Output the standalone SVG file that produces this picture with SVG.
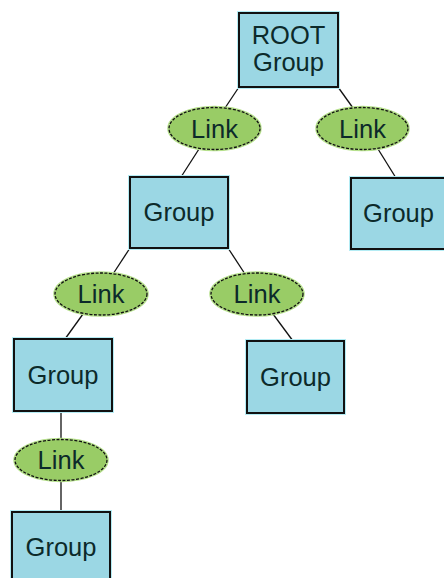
<svg xmlns="http://www.w3.org/2000/svg" width="444" height="578" viewBox="0 0 444 578">
<style>
.halo{fill:none;stroke:#b4ecf4;stroke-width:4}
.box{fill:#9bd7e4;stroke:#111;stroke-width:2}
.lh{fill:none;stroke:#b6e08c;stroke-width:3.5}
.link{fill:#99cc66;stroke:#111;stroke-width:1.3;stroke-dasharray:3 1.5}
.t{font-family:"Liberation Sans",Arial,sans-serif;font-size:25.5px;fill:#0c2a2a;text-anchor:middle}
.c{stroke:#111;stroke-width:1.3;fill:none}
</style>
<rect width="444" height="578" fill="#fff"/>
<g id="connectors">
<line class="c" x1="239" y1="87" x2="225" y2="108"/>
<line class="c" x1="199" y1="149" x2="181" y2="177"/>
<line class="c" x1="338" y1="87" x2="353" y2="108"/>
<line class="c" x1="378" y1="149" x2="396" y2="178"/>
<line class="c" x1="130" y1="248" x2="113" y2="274"/>
<line class="c" x1="228" y1="248" x2="245" y2="274"/>
<line class="c" x1="83" y1="314" x2="65" y2="339"/>
<line class="c" x1="273" y1="314" x2="293" y2="341"/>
<line class="c" x1="61" y1="411" x2="61" y2="440"/>
<line class="c" x1="61" y1="480" x2="61" y2="512"/>
</g>
<g id="root">
<rect class="halo" x="239" y="13" width="99" height="74"/>
<rect class="box" x="239" y="13" width="99" height="74"/>
<text class="t" x="288.5" y="44">ROOT</text>
<text class="t" x="288.5" y="71">Group</text>
</g>
<g id="link1">
<ellipse class="lh" cx="214.5" cy="128.5" rx="45.5" ry="21"/>
<ellipse class="link" cx="214.5" cy="128.5" rx="45.5" ry="21"/>
<text class="t" x="214.5" y="138">Link</text>
</g>
<g id="link2">
<ellipse class="lh" cx="362.5" cy="128.5" rx="45.5" ry="21"/>
<ellipse class="link" cx="362.5" cy="128.5" rx="45.5" ry="21"/>
<text class="t" x="362.5" y="138">Link</text>
</g>
<g id="group1">
<rect class="halo" x="130" y="177" width="98" height="71"/>
<rect class="box" x="130" y="177" width="98" height="71"/>
<text class="t" x="179" y="221">Group</text>
</g>
<g id="group2">
<rect class="halo" x="351" y="178" width="98" height="71"/>
<rect class="box" x="351" y="178" width="98" height="71"/>
<text class="t" x="398.5" y="222">Group</text>
</g>
<g id="link3">
<ellipse class="lh" cx="101" cy="294" rx="46" ry="21"/>
<ellipse class="link" cx="101" cy="294" rx="46" ry="21"/>
<text class="t" x="101" y="303">Link</text>
</g>
<g id="link4">
<ellipse class="lh" cx="257" cy="294" rx="46" ry="21"/>
<ellipse class="link" cx="257" cy="294" rx="46" ry="21"/>
<text class="t" x="257" y="303">Link</text>
</g>
<g id="group3">
<rect class="halo" x="14" y="339" width="98" height="72"/>
<rect class="box" x="14" y="339" width="98" height="72"/>
<text class="t" x="63" y="384">Group</text>
</g>
<g id="group4">
<rect class="halo" x="247" y="341" width="97" height="72"/>
<rect class="box" x="247" y="341" width="97" height="72"/>
<text class="t" x="295.5" y="386">Group</text>
</g>
<g id="link5">
<ellipse class="lh" cx="61" cy="460" rx="46" ry="20.5"/>
<ellipse class="link" cx="61" cy="460" rx="46" ry="20.5"/>
<text class="t" x="61" y="469">Link</text>
</g>
<g id="group5">
<rect class="halo" x="12" y="512" width="98" height="72"/>
<rect class="box" x="12" y="512" width="98" height="72"/>
<text class="t" x="61" y="556">Group</text>
</g>
</svg>
